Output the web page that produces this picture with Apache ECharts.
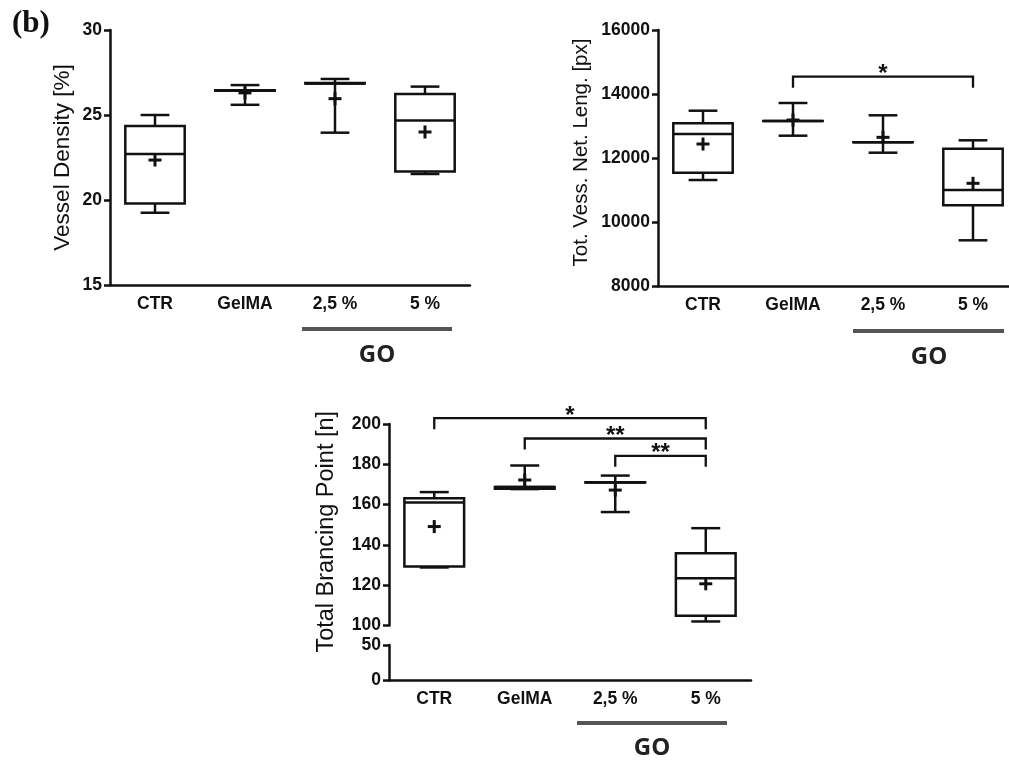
<!DOCTYPE html>
<html>
<head>
<meta charset="utf-8">
<script src="https://cdn.jsdelivr.net/npm/echarts@6/dist/echarts.min.js"></script>
<style>
  html, body { margin: 0; padding: 0; background: #fff; }
  #chart { width: 1009px; height: 760px; }
</style>
</head>
<body>
<div id="chart"></div>
<script>
const categories = ['CTR', 'GelMA', '2,5 %', '5 %'];

// [min, Q1, median, Q3, max] for each group
const densityBoxes = [
  [19.25, 19.8, 22.7, 24.35, 25.0],
  [25.6, 26.43, 26.43, 26.45, 26.76],
  [23.96, 26.86, 26.86, 26.88, 27.12],
  [21.53, 21.67, 24.67, 26.24, 26.67]
];
const densityMeans = [22.35, 26.3, 25.96, 24.0];

const lengthBoxes = [
  [11312, 11541, 12750, 13084, 13478],
  [12697, 13156, 13156, 13160, 13719],
  [12166, 12490, 12490, 12495, 13334],
  [9428, 10522, 11000, 12291, 12553]
];
const lengthMeans = [12437, 13187, 12646, 11209];

const branchBoxes = [
  [128.8, 129.3, 161.0, 163.2, 166.2],
  [167.7, 167.9, 168.7, 168.7, 179.4],
  [156.3, 171.0, 171.0, 171.1, 174.4],
  [102.0, 104.8, 123.5, 135.9, 148.3]
];
const branchMeans = [149.1, 172.2, 167.2, 120.7];

// significance brackets: [from group, to group, bracket level, mark]
const lengthSig = [[1, 3, 14540, '*']];
const branchSig = [
  [0, 3, 202.9, '*'],
  [1, 3, 192.8, '**'],
  [2, 3, 184.2, '**']
];

const INK = '#111';
const SANS = '"Liberation Sans", Arial, sans-serif';
const LW = 2.5;

function renderBox(params, api) {
  const i = api.value(0);
  const lo = api.value(1), q1 = api.value(2), med = api.value(3);
  const q3 = api.value(4), hi = api.value(5), mean = api.value(6);
  const band = api.size([1, 0])[0];
  const boxHalf = band * 0.33;
  const capHalf = band * 0.16;
  const x = api.coord([i, med])[0];
  const y = v => api.coord([i, v])[1];
  const line = (x1, y1, x2, y2, w) => ({
    type: 'line',
    shape: { x1, y1, x2, y2 },
    style: { stroke: INK, lineWidth: w || LW }
  });
  const m = y(mean);
  return {
    type: 'group',
    children: [
      line(x, y(hi), x, y(q3)),
      line(x, y(q1), x, y(lo)),
      line(x - capHalf, y(hi), x + capHalf, y(hi)),
      line(x - capHalf, y(lo), x + capHalf, y(lo)),
      {
        type: 'rect',
        shape: { x: x - boxHalf, y: y(q3), width: boxHalf * 2, height: y(q1) - y(q3) },
        style: { stroke: INK, lineWidth: LW, fill: 'none' }
      },
      line(x - boxHalf, y(med), x + boxHalf, y(med)),
      line(x - 6.5, m, x + 6.5, m, 3),
      line(x, m - 6.5, x, m + 6.5, 3)
    ]
  };
}

function bracketRenderer(sig) {
  return function (params, api) {
    const s = sig[params.dataIndex];
    const a = api.coord([s[0], s[2]]);
    const b = api.coord([s[1], s[2]]);
    const drop = 11;
    return {
      type: 'group',
      children: [
        {
          type: 'polyline',
          shape: { points: [[a[0], a[1] + drop], a, b, [b[0], b[1] + drop]] },
          style: { stroke: INK, lineWidth: 2.3, fill: 'none' }
        },
        {
          type: 'text',
          style: {
            text: s[3], x: (a[0] + b[0]) / 2, y: a[1] - 2,
            align: 'center', verticalAlign: 'middle',
            font: 'bold 24px ' + SANS, fill: INK
          }
        }
      ]
    };
  };
}

function boxData(boxes, means) {
  return boxes.map((b, i) => [i, ...b, means[i]]);
}

function grid(left, top, width, height) {
  return { left, top, width, height, containLabel: false, outerBoundsMode: 'none' };
}

function xAxis(gridIndex, show) {
  return {
    type: 'category',
    gridIndex,
    data: categories,
    show,
    axisLine: { lineStyle: { color: INK, width: LW } },
    axisTick: { alignWithLabel: true, length: 6, lineStyle: { color: INK, width: LW } },
    axisLabel: { color: INK, fontFamily: SANS, fontWeight: 'bold', fontSize: 17.5, margin: 10 }
  };
}

function yAxis(gridIndex, min, max, interval, name, nameSize, nameGap, namePad) {
  return {
    type: 'value',
    gridIndex, min, max, interval,
    name,
    nameLocation: 'middle',
    nameGap,
    nameTextStyle: { color: INK, fontFamily: SANS, fontSize: nameSize, padding: namePad || 0 },
    splitLine: { show: false },
    axisLine: { show: true, lineStyle: { color: INK, width: LW } },
    axisTick: { show: true, length: 6, lineStyle: { color: INK, width: LW } },
    axisLabel: {
      color: INK, fontFamily: SANS, fontWeight: 'bold', fontSize: 17.5, margin: 8,
      formatter: v => String(v)
    }
  };
}

const chart = echarts.init(document.getElementById('chart'), null, { renderer: 'canvas' });

const option = {
  backgroundColor: '#fff',
  animation: false,
  grid: [
    grid(110, 30, 360, 255),
    grid(658, 30, 360, 256),
    grid(389, 424, 362, 201.5),
    grid(389, 645, 362, 35.5)
  ],
  xAxis: [xAxis(0, true), xAxis(1, true), xAxis(2, false), xAxis(3, true)],
  yAxis: [
    yAxis(0, 15, 30, 5, 'Vessel Density [%]', 22.5, 36),
    yAxis(1, 8000, 16000, 2000, 'Tot. Vess. Net. Leng. [px]', 20.5, 66, [0, 0, 0, 11]),
    yAxis(2, 100, 200, 20, 'Total Brancing Point [n]', 23.5, 50, [0, 14, 0, 0]),
    yAxis(3, 0, 50, 50, '', 12, 10)
  ],
  series: [
    { type: 'custom', xAxisIndex: 0, yAxisIndex: 0, data: boxData(densityBoxes, densityMeans),
      encode: { x: 0, y: [1, 2, 3, 4, 5, 6] }, renderItem: renderBox },
    { type: 'custom', xAxisIndex: 1, yAxisIndex: 1, data: boxData(lengthBoxes, lengthMeans),
      encode: { x: 0, y: [1, 2, 3, 4, 5, 6] }, renderItem: renderBox },
    { type: 'custom', xAxisIndex: 2, yAxisIndex: 2, data: boxData(branchBoxes, branchMeans),
      encode: { x: 0, y: [1, 2, 3, 4, 5, 6] }, renderItem: renderBox },
    { type: 'custom', xAxisIndex: 1, yAxisIndex: 1, data: lengthSig.map(s => [s[0], s[2]]),
      renderItem: bracketRenderer(lengthSig) },
    { type: 'custom', xAxisIndex: 2, yAxisIndex: 2, data: branchSig.map(s => [s[0], s[2]]),
      renderItem: bracketRenderer(branchSig) }
  ],
  graphic: [
    { type: 'text', left: 12, top: 8,
      style: { text: '(b)', font: 'bold 31px "Liberation Serif", "Times New Roman", serif', fill: INK } },
    { type: 'rect', shape: { x: 302, y: 327, width: 150, height: 4 }, style: { fill: '#555' } },
    { type: 'rect', shape: { x: 853, y: 329, width: 151, height: 4 }, style: { fill: '#555' } },
    { type: 'rect', shape: { x: 577, y: 721, width: 150, height: 4 }, style: { fill: '#555' } },
    { type: 'text', x: 377, y: 355,
      style: { text: 'GO', font: 'bold 24px "Open Sans", sans-serif', fill: '#222', align: 'center', verticalAlign: 'middle' } },
    { type: 'text', x: 929, y: 357,
      style: { text: 'GO', font: 'bold 24px "Open Sans", sans-serif', fill: '#222', align: 'center', verticalAlign: 'middle' } },
    { type: 'text', x: 652, y: 748,
      style: { text: 'GO', font: 'bold 24px "Open Sans", sans-serif', fill: '#222', align: 'center', verticalAlign: 'middle' } }
  ]
};

chart.setOption(option);
</script>
</body>
</html>
